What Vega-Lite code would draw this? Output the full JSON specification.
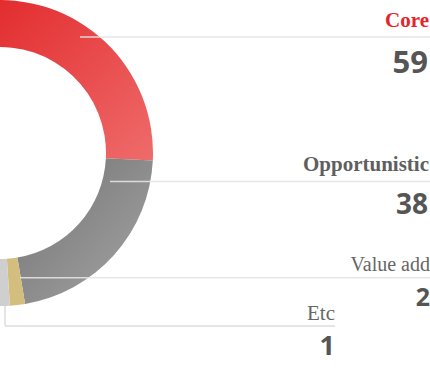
{
  "$schema": "https://vega.github.io/schema/vega-lite/v6.json",
  "width": 430,
  "height": 386,
  "autosize": "none",
  "padding": 0,
  "background": "#ffffff",
  "config": {"view": {"stroke": null}},
  "data": {
    "values": [
      {"cat": "Core", "value": 59},
      {"cat": "Opportunistic", "value": 38},
      {"cat": "Value add", "value": 2},
      {"cat": "Etc", "value": 1}
    ]
  },
  "layer": [
    {
      "mark": {"type": "arc", "innerRadius": 106, "outerRadius": 153},
      "encoding": {
        "theta": {"field": "value", "type": "quantitative", "stack": true, "scale": {"type": "pow", "exponent": 0.85, "domain": [0, 100], "range": [3.1416, -0.105]}},
        "order": {"field": "value", "type": "quantitative", "sort": "ascending"},
        "x": {"value": 0},
        "y": {"value": 153},
        "fill": {
          "condition": [
            {"test": "datum.cat === 'Core'", "value": {"gradient": "linear", "x1": 0, "y1": 0, "x2": 1, "y2": 1, "stops": [{"offset": 0, "color": "#e22a2c"}, {"offset": 1, "color": "#ef6b6b"}]}},
            {"test": "datum.cat === 'Opportunistic'", "value": {"gradient": "linear", "x1": 0, "y1": 0, "x2": 1, "y2": 1, "stops": [{"offset": 0, "color": "#727272"}, {"offset": 1, "color": "#a6a6a6"}]}},
            {"test": "datum.cat === 'Value add'", "value": "#d4be7e"}
          ],
          "value": "#cfcfcf"
        }
      }
    },
    {
      "transform": [{"filter": "datum.cat !== 'Etc'"}],
      "mark": {"type": "rule", "color": "#e3e3e3", "strokeWidth": 1.5, "opacity": 0.9},
      "encoding": {
        "x": {"field": "cat", "type": "nominal", "scale": {"type": "point", "domain": ["Etc", "Value add", "s1", "s2", "s3", "Core", "s4", "Opportunistic"], "range": [5, 110], "padding": 0}, "axis": null},
        "x2": {"value": "width"},
        "y": {"field": "cat", "type": "nominal", "scale": {"type": "point", "domain": ["Core", "t1", "t2", "Opportunistic", "t3", "Value add", "Etc"], "range": [37, 326], "padding": 0}, "axis": null}
      }
    },
    {
      "transform": [{"filter": "datum.cat === 'Etc'"}],
      "mark": {"type": "rule", "color": "#dddddd", "strokeWidth": 1.5},
      "encoding": {
        "x": {"field": "cat", "type": "nominal", "axis": null},
        "x2": {"value": 335},
        "y": {"field": "cat", "type": "nominal", "axis": null}
      }
    },
    {
      "transform": [{"filter": "datum.cat === 'Etc'"}],
      "mark": {"type": "rule", "color": "#dddddd", "strokeWidth": 1.5},
      "encoding": {
        "x": {"field": "cat", "type": "nominal", "axis": null},
        "y": {"field": "cat", "type": "nominal", "axis": null},
        "y2": {"value": 306}
      }
    },
    {
      "transform": [{"filter": "datum.cat === 'Core'"}],
      "mark": {"type": "text", "align": "right", "baseline": "alphabetic", "dy": -10, "dx": -1, "font": "Liberation Serif", "fontWeight": "bold", "fontSize": 21, "color": "#e3262b"},
      "encoding": {
        "x": {"value": "width"},
        "y": {"field": "cat", "type": "nominal", "axis": null},
        "text": {"field": "cat"}
      }
    },
    {
      "transform": [{"filter": "datum.cat === 'Opportunistic'"}],
      "mark": {"type": "text", "align": "right", "baseline": "alphabetic", "dy": -11, "dx": -1, "font": "Liberation Serif", "fontWeight": "bold", "fontSize": 21, "color": "#5f5f5f"},
      "encoding": {
        "x": {"value": "width"},
        "y": {"field": "cat", "type": "nominal", "axis": null},
        "text": {"field": "cat"}
      }
    },
    {
      "transform": [{"filter": "datum.cat === 'Value add'"}],
      "mark": {"type": "text", "align": "right", "baseline": "alphabetic", "dy": -7, "font": "Liberation Serif", "fontSize": 20, "color": "#666666"},
      "encoding": {
        "x": {"value": "width"},
        "y": {"field": "cat", "type": "nominal", "axis": null},
        "text": {"field": "cat"}
      }
    },
    {
      "transform": [{"filter": "datum.cat === 'Etc'"}],
      "mark": {"type": "text", "align": "right", "baseline": "alphabetic", "dy": -6, "font": "Liberation Serif", "fontSize": 21, "color": "#666666"},
      "encoding": {
        "x": {"value": 335},
        "y": {"field": "cat", "type": "nominal", "axis": null},
        "text": {"field": "cat"}
      }
    },
    {
      "transform": [{"filter": "datum.cat === 'Core'"}],
      "mark": {"type": "text", "align": "right", "baseline": "alphabetic", "dy": 36, "dx": -2, "font": "Open Sans", "fontWeight": "bold", "fontSize": 31, "color": "#555555"},
      "encoding": {
        "x": {"value": "width"},
        "y": {"field": "cat", "type": "nominal", "axis": null},
        "text": {"field": "value", "type": "quantitative"}
      }
    },
    {
      "transform": [{"filter": "datum.cat === 'Opportunistic'"}],
      "mark": {"type": "text", "align": "right", "baseline": "alphabetic", "dy": 32, "dx": -2, "font": "Open Sans", "fontWeight": "bold", "fontSize": 28, "color": "#555555"},
      "encoding": {
        "x": {"value": "width"},
        "y": {"field": "cat", "type": "nominal", "axis": null},
        "text": {"field": "value", "type": "quantitative"}
      }
    },
    {
      "transform": [{"filter": "datum.cat === 'Value add'"}],
      "mark": {"type": "text", "align": "right", "baseline": "alphabetic", "dy": 28, "dx": 0, "font": "Open Sans", "fontWeight": "bold", "fontSize": 25, "color": "#555555"},
      "encoding": {
        "x": {"value": "width"},
        "y": {"field": "cat", "type": "nominal", "axis": null},
        "text": {"field": "value", "type": "quantitative"}
      }
    },
    {
      "transform": [{"filter": "datum.cat === 'Etc'"}],
      "mark": {"type": "text", "align": "right", "baseline": "alphabetic", "dy": 29, "font": "Open Sans", "fontWeight": "bold", "fontSize": 27, "color": "#555555"},
      "encoding": {
        "x": {"value": 335},
        "y": {"field": "cat", "type": "nominal", "axis": null},
        "text": {"field": "value", "type": "quantitative"}
      }
    }
  ]
}
